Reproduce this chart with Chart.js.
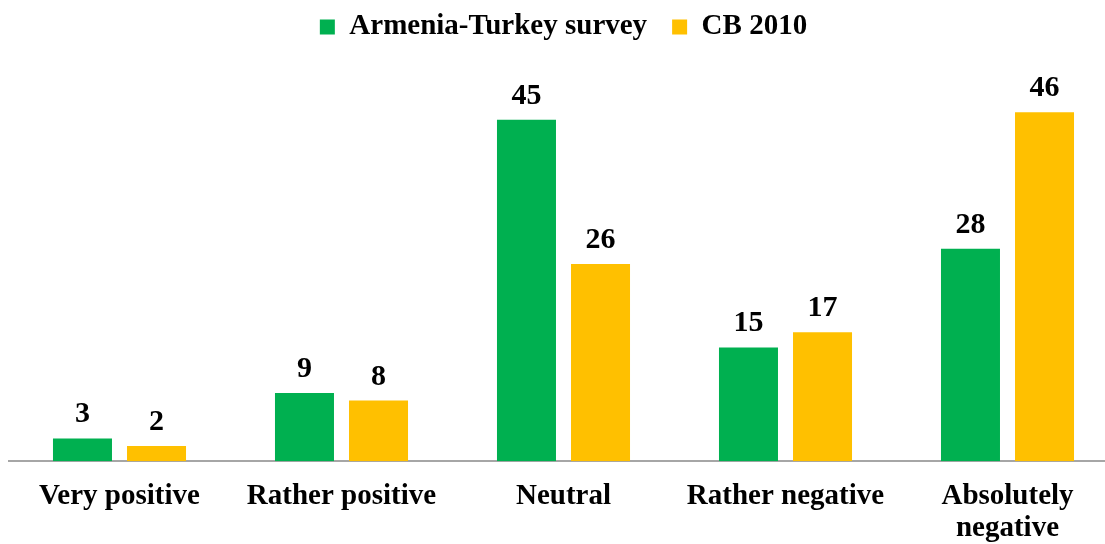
<!DOCTYPE html>
<html>
<head>
<meta charset="utf-8">
<script src="https://cdn.jsdelivr.net/npm/chart.js@4"></script>
<style>
  body { margin: 0; overflow: hidden; background: #fff; }
  #wrap { width: 1120px; height: 544px; }
</style>
</head>
<body>
<div id="wrap"><canvas id="myChart"></canvas></div>
<script>
const labels = ["Very positive", "Rather positive", "Neutral", "Rather negative", ["Absolutely", "negative"]];
const surveyValues = [3, 9, 45, 15, 28];
const cbValues = [2, 8, 26, 17, 46];

// value labels above each bar
const barLabels = {
  id: "barLabels",
  afterDatasetsDraw(chart) {
    const ctx = chart.ctx;
    ctx.save();
    ctx.font = "bold 30px 'Liberation Serif'";
    ctx.fillStyle = "#000";
    ctx.textAlign = "center";
    ctx.textBaseline = "alphabetic";
    chart.data.datasets.forEach((ds, i) => {
      chart.getDatasetMeta(i).data.forEach((bar, j) => {
        ctx.fillText(ds.data[j], bar.x, bar.y - 16);
      });
    });
    ctx.restore();
  },
};

const data = {
  labels: labels,
  datasets: [
    {
      label: "Armenia-Turkey survey",
      backgroundColor: "#00B050",
      data: surveyValues,
    },
    {
      label: "CB 2010",
      backgroundColor: "#FFC000",
      data: cbValues,
    },
  ],
};

const config = {
  type: "bar",
  data: data,
  plugins: [barLabels],
  options: {
    responsive: true,
    maintainAspectRatio: false,
    animation: false,
    categoryPercentage: 0.667,
    barPercentage: 0.797,
    layout: { padding: { left: 8.5, right: 1.5, top: -12.5, bottom: -19 } },
    plugins: {
      tooltip: { enabled: false },
      legend: {
        labels: {
          boxWidth: 15,
          boxHeight: 15,
          padding: 25,
          color: "#000",
          font: { family: "'Liberation Serif'", size: 29, weight: "bold" },
        },
      },
    },
    scales: {
      x: {
        grid: { display: false, drawTicks: false, tickLength: 0 },
        border: { color: "#A6A6A6", width: 2 },
        ticks: {
          color: "#000",
          padding: 19,
          autoSkip: false,
          maxRotation: 0,
          font: { family: "'Liberation Serif'", size: 29, weight: "bold", lineHeight: 1.1 },
        },
      },
      y: {
        display: false,
        min: 0,
        max: 54,
      },
    },
  },
};

const myChart = new Chart(document.getElementById("myChart"), config);
</script>
</body>
</html>
